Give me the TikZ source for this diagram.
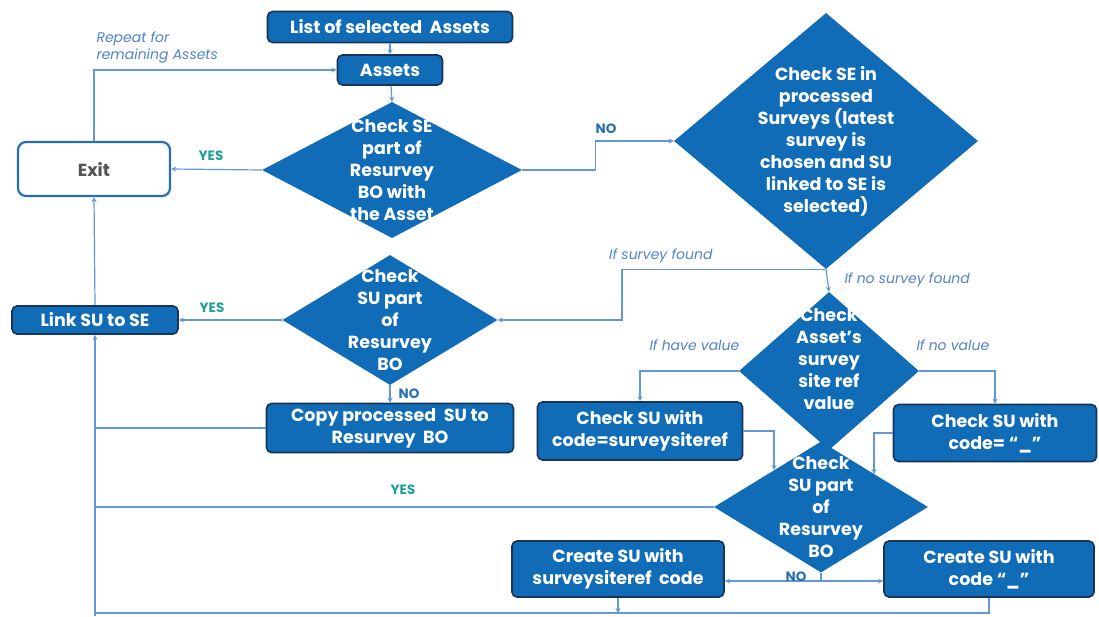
\documentclass[tikz,border=0pt]{standalone}
\usepackage{fontspec}
\setmainfont{Poppins}
\usetikzlibrary{shapes.geometric,arrows.meta,calc}
\definecolor{boxblue}{RGB}{16,108,182}
\definecolor{navy}{RGB}{24,52,86}
\definecolor{linkblue}{RGB}{98,152,214}
\definecolor{yesteal}{RGB}{32,160,150}
\definecolor{noblue}{RGB}{40,110,180}
\definecolor{lblblue}{RGB}{80,130,200}
\definecolor{exitgrey}{RGB}{85,85,85}
\begin{document}
\begin{tikzpicture}[x=1pt,y=-1pt,
  procbox/.style={draw=navy,line width=1.6pt,fill=boxblue,rounded corners=5pt,text=white,font=\bfseries\fontsize{17.5}{22}\selectfont,align=center,inner sep=0pt},
  decision/.style={diamond,fill=boxblue,inner sep=0pt,aspect=1},
  dtext/.style={text=white,font=\bfseries\fontsize{17.5}{22}\selectfont,align=center},
  conn/.style={draw=linkblue,line width=1.2pt},
  arr/.style={conn,-{Stealth[length=5pt,width=5pt]}},
  yeslbl/.style={text=yesteal,font=\bfseries\fontsize{13.5}{15}\selectfont},
  nolbl/.style={text=noblue,font=\bfseries\fontsize{13.5}{15}\selectfont},
  itlbl/.style={text=lblblue,font=\itshape\fontsize{14}{17}\selectfont}
]
\useasboundingbox (0,0) rectangle (1099,616);

% nodes
\node[procbox,minimum width=245pt,minimum height=31pt] (list) at (390,27) {List of selected\ \ Assets};
\node[procbox,minimum width=105pt,minimum height=30pt] (assets) at (390,70) {Assets};
\node[decision,minimum width=260pt,minimum height=136pt] (d1) at (392,170) {};
\node[dtext] (d1t) at (392,170) {Check SE\\part of\\Resurvey\\BO with\\the Asset};
\node[draw=noblue,line width=2.2pt,fill=white,rounded corners=8pt,minimum width=152pt,minimum height=54pt,text=exitgrey,font=\bfseries\fontsize{17.5}{22}\selectfont] (exit) at (94,169) {Exit};
\node[decision,minimum width=304pt,minimum height=256pt] (d2) at (826,141) {};
\node[dtext] (d2t) at (826,141) {Check SE in\\processed\\Surveys (latest\\survey is\\chosen and SU\\linked to SE is\\selected)};
\node[decision,minimum width=215pt,minimum height=130pt] (d3) at (390,320) {};
\node[dtext] (d3t) at (390,320) {Check\\SU part\\of\\Resurvey\\BO};
\node[procbox,minimum width=166pt,minimum height=28pt] (link) at (95,320) {Link SU to SE};
\node[procbox,minimum width=247pt,minimum height=49pt] (copy) at (390,428) {Copy processed\ \ SU to\\Resurvey\ \ BO};
\node[decision,minimum width=180pt,minimum height=158pt] (d4) at (829,371) {};
\node[dtext] (d4t) at (829,359) {Check\\Asset's\\survey\\site ref\\value};
\node[procbox,minimum width=205pt,minimum height=58pt] (chk1) at (640,431) {Check SU with\\code=surveysiteref};
\node[procbox,minimum width=203pt,minimum height=57pt] (chk2) at (995,433) {Check SU with\\code= ``\_''};
\node[decision,minimum width=214pt,minimum height=131pt] (d5) at (821,507) {};
\node[dtext] (d5t) at (821,507) {Check\\SU part\\of\\Resurvey\\BO};
\node[procbox,minimum width=212pt,minimum height=56pt] (cr1) at (618,569) {Create SU with\\surveysiteref\ \ code};
\node[procbox,minimum width=210pt,minimum height=56pt] (cr2) at (989,569) {Create SU with\\code ``\_''};

% helper coordinates
\coordinate (bl) at (95,613);
\coordinate (bedge) at (95,616);
\coordinate (sfx) at (622,0);
\coordinate (a1) at (774,470);
\coordinate (a2) at (874,474);
\coordinate (nb) at (821,581);

% connectors
\draw[arr] (list) -- (assets);
\draw[arr] (assets) -- (d1.north);
\draw[arr] (d1.west) -- (exit.east);
\draw[arr] (exit.north) |- (assets.west);
\draw[arr] (d1.east) -- ++(73,0) |- (d2.west);
\draw[arr] (d2.south) -- (d4.north);
\draw[arr] (d2.south) -- (d2.south -| sfx) |- (d3.east);
\draw[arr] (d3.west) -- (link.east);
\draw[arr] (d3.south) -- (copy.north);
\draw[arr] (link.north) -- (exit.south);
\draw[arr] (cr2.south) |- (bl) -- (link.south);
\draw[conn] (bedge) -- (bl);
\draw[arr] (cr1.south) -- (cr1.south |- bl);
\draw[conn] (copy.west) -- (copy.west -| bl);
\draw[conn] (d5.west) -- (d5.west -| bl);
\draw[arr] (d4.west) -| (chk1.north);
\draw[arr] (d4.east) -| (chk2.north);
\draw[arr] (chk1.east) -| (a1);
\draw[arr] (chk2.west) -| (a2);
\draw[conn] (d5.south) -- (nb);
\draw[arr] (nb) -- (nb -| cr1.east);
\draw[arr] (nb) -- (nb -| cr2.west);

% labels
\node[yeslbl] (y1) at (211,156) {YES};
\node[nolbl] (n1) at (606,129) {NO};
\node[yeslbl] (y2) at (212,308) {YES};
\node[nolbl] (n2) at (409,394) {NO};
\node[yeslbl] (y3) at (403,490) {YES};
\node[nolbl] (n3) at (796,577) {NO};
\node[itlbl,anchor=east] (l1) at (716,256) {If survey found};
\node[itlbl,anchor=west] (l2) at (841,280) {If no survey found};
\node[itlbl,anchor=west] (l3) at (646,345) {If have value};
\node[itlbl,anchor=west] (l4) at (913,345) {If no value};
\node[itlbl,anchor=west,align=left] (l5) at (93,48) {Repeat for\\remaining Assets};
\end{tikzpicture}
\end{document}
